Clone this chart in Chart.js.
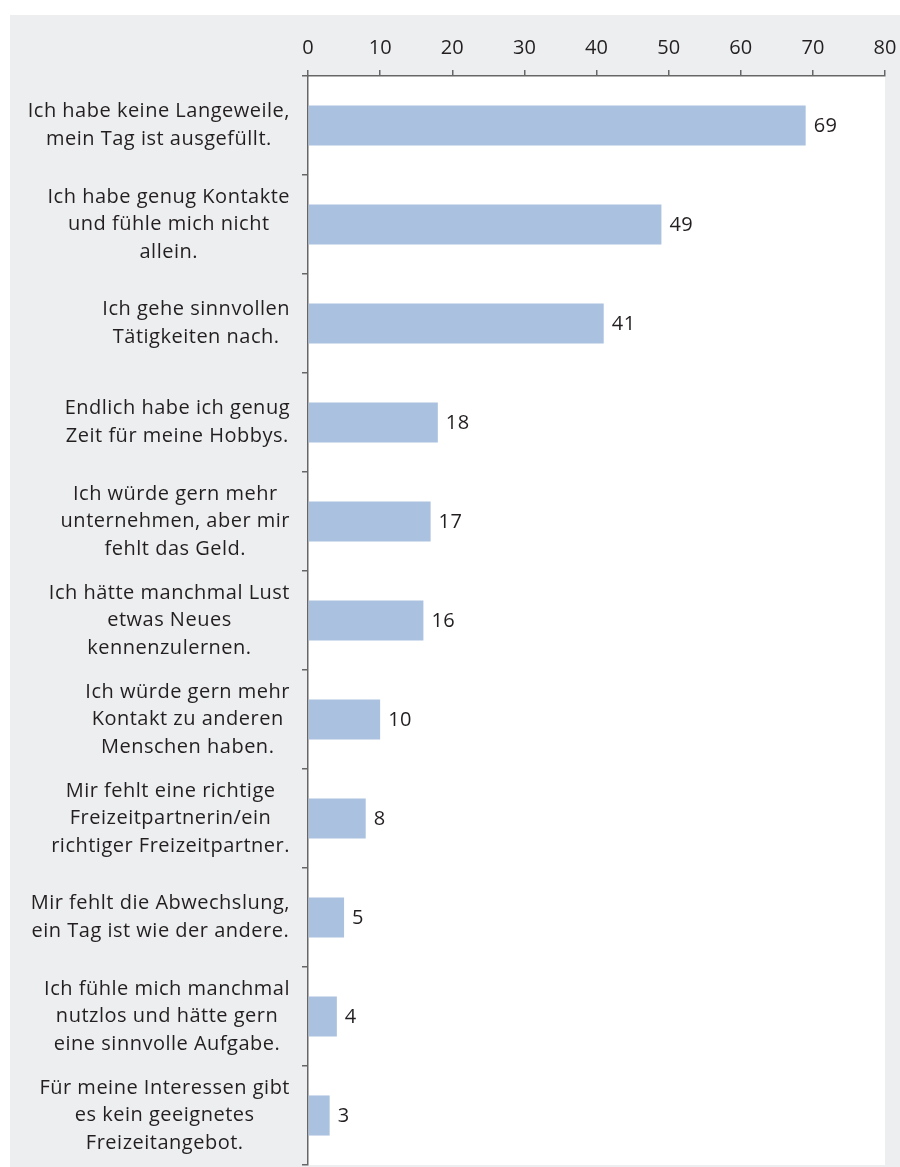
<!DOCTYPE html>
<html>
<head>
<meta charset="utf-8">
<script src="https://cdn.jsdelivr.net/npm/chart.js@4/dist/chart.umd.min.js"></script>
<style>
html,body{margin:0;padding:0;background:#ffffff;}
#wrap{position:absolute;left:0;top:0;width:900px;height:1167px;}
</style>
</head>
<body>
<div id="wrap"><canvas id="c" width="900" height="1167"></canvas></div>
<script>
const categories = [
  ["Ich habe keine Langeweile,", "mein Tag ist ausgefüllt."],
  ["Ich habe genug Kontakte", "und fühle mich nicht", "allein."],
  ["Ich gehe sinnvollen", "Tätigkeiten nach."],
  ["Endlich habe ich genug", "Zeit für meine Hobbys."],
  ["Ich würde gern mehr", "unternehmen, aber mir", "fehlt das Geld."],
  ["Ich hätte manchmal Lust", "etwas Neues", "kennenzulernen."],
  ["Ich würde gern mehr", "Kontakt zu anderen", "Menschen haben."],
  ["Mir fehlt eine richtige", "Freizeitpartnerin/ein", "richtiger Freizeitpartner."],
  ["Mir fehlt die Abwechslung,", "ein Tag ist wie der andere."],
  ["Ich fühle mich manchmal", "nutzlos und hätte gern", "eine sinnvolle Aufgabe."],
  ["Für meine Interessen gibt", "es kein geeignetes", "Freizeitangebot."]
];
const values = [69, 49, 41, 18, 17, 16, 10, 8, 5, 4, 3];
const xTicks = [0, 10, 20, 30, 40, 50, 60, 70, 80];

const FONT = "'Open Sans', sans-serif";
const TEXT = '#231f20';

const bgPlugin = {
  id: 'bg',
  beforeDraw(chart) {
    const ctx = chart.ctx, a = chart.chartArea;
    ctx.save();
    ctx.fillStyle = '#edeef0';
    ctx.fillRect(10, 15, 890, 1152);
    ctx.fillStyle = '#ffffff';
    ctx.fillRect(a.left, a.top, a.right - a.left, a.bottom - a.top);
    ctx.restore();
  }
};

const labelPlugin = {
  id: 'labels',
  afterDraw(chart) {
    const ctx = chart.ctx;
    const ys = chart.scales.y, xs = chart.scales.x;
    ctx.save();
    ctx.font = '20px ' + FONT;
    ctx.fillStyle = TEXT;
    ctx.textBaseline = 'middle';
    try { ctx.letterSpacing = '0.5px'; } catch (e) {}
    const lh = 27.5;
    const rightEdge = ys.right - 18;
    categories.forEach((lines, i) => {
      const yc = ys.getPixelForValue(i);
      let w = 0;
      lines.forEach(l => { w = Math.max(w, ctx.measureText(l).width); });
      const cx = rightEdge - w / 2;
      ctx.textAlign = 'center';
      lines.forEach((l, k) => {
        const y = yc + (k - (lines.length - 1) / 2) * lh;
        ctx.fillText(l, cx, y);
      });
    });
    ctx.textAlign = 'left';
    values.forEach((v, i) => {
      ctx.fillText(String(v), xs.getPixelForValue(v) + 8, ys.getPixelForValue(i) + 1);
    });
    ctx.restore();
  }
};

new Chart(document.getElementById('c'), {
  type: 'bar',
  data: {
    labels: categories,
    datasets: [{
      data: values,
      backgroundColor: '#abc1e0',
      borderWidth: 0,
      barPercentage: 0.81,
      categoryPercentage: 0.5
    }]
  },
  options: {
    indexAxis: 'y',
    responsive: false,
    animation: false,
    devicePixelRatio: 1,
    layout: { padding: { left: 10, top: 15, right: 15, bottom: 2 } },
    plugins: { legend: { display: false }, tooltip: { enabled: false } },
    scales: {
      x: {
        position: 'top',
        min: 0, max: 80,
        afterFit(s) { s.height = 61; s.paddingLeft = 0; s.paddingRight = 0; },
        afterBuildTicks(s) { s.ticks = xTicks.map(v => ({ value: v })); },
        grid: { drawOnChartArea: false, drawTicks: true, tickLength: 6, color: '#666666', lineWidth: 1.5 },
        border: { display: true, color: '#666666', width: 1.5 },
        ticks: { color: TEXT, font: { family: FONT, size: 20 }, padding: 10, maxRotation: 0 }
      },
      y: {
        afterFit(s) { s.width = 298; s.paddingTop = 0; s.paddingBottom = 0; },
        grid: { offset: true, drawOnChartArea: false, drawTicks: true, tickLength: 6, color: '#666666', lineWidth: 1.5 },
        border: { display: true, color: '#666666', width: 1.5 },
        ticks: { display: false }
      }
    }
  },
  plugins: [bgPlugin, labelPlugin]
});
</script>
</body>
</html>
